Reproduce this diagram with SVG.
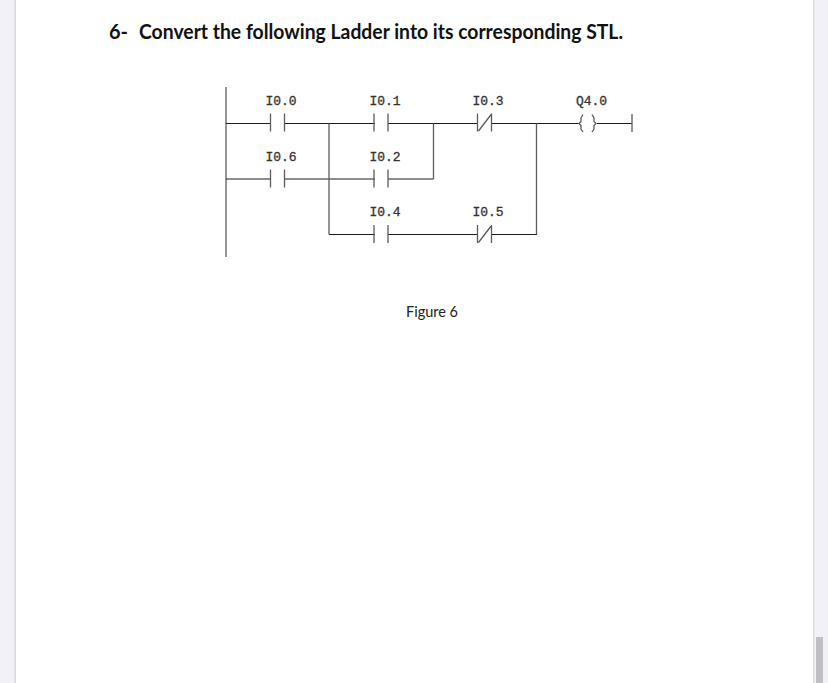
<svg xmlns="http://www.w3.org/2000/svg" width="828" height="683" viewBox="0 0 828 683">
<style>
.w{fill:none;stroke:#1c1c1c;stroke-width:1.2}
.g{fill:none;stroke:#5c5c5c;stroke-width:1.3}
.l{font-family:"Liberation Mono",monospace;font-size:13px;fill:#333;text-anchor:middle;stroke:#333;stroke-width:.3}
.t{font-family:Lato,"Liberation Sans",sans-serif}
</style>
<defs>
<g id="no"><path class="g" d="M-7-9.500V8.500M7-9.500V8.500"/></g>
<g id="nc"><path class="g" d="M-7-9.500V8.500M7-9.500V8.500M-6 8L7-9"/></g>
</defs>
<rect width="828" height="683" fill="#f1f1f7"/>
<rect x="16" width="797" height="683" fill="#fff"/>
<rect x="14.500" width="1.500" height="683" fill="#d8d8de"/>
<rect x="813" width="1.500" height="683" fill="#dcdce2"/>
<rect x="816" y="637" width="7" height="46" fill="#c0c0c4"/>
<text id="title" class="t" x="109" y="39" font-size="20" font-weight="700" fill="#111">6-</text>
<text id="title2" class="t" x="139" y="39" font-size="20" font-weight="700" fill="#111" textLength="484" lengthAdjust="spacingAndGlyphs">Convert the following Ladder into its corresponding STL.</text>
<g id="connectors">
<path class="g" d="M226 87V257"/>
<path class="w" d="M226 123.500H271M284 123.500H375M388 123.500H478M491 123.500H579M597 123.500H632"/>
<path class="w" d="M226 179H271M284 179H375M388 179H433.500"/>
<path class="w" d="M329 234.500H375M388 234.500H478M491 234.500H537"/>
<path class="g" d="M329 123.500V234.500M433.500 123.500V179M536.500 123.500V234.500"/>
</g>
<g id="I0.0"><text class="l" x="281" y="105">I0.0</text><use href="#no" x="277.500" y="123"/></g>
<g id="I0.1"><text class="l" x="385" y="105">I0.1</text><use href="#no" x="381" y="123"/></g>
<g id="I0.3"><text class="l" x="488" y="105">I0.3</text><use href="#nc" x="484.500" y="123"/></g>
<g id="Q4.0"><text class="l" x="591.500" y="105">Q4.0</text>
<path class="g" d="M583 114.500L581 118V121.500L579 123.500L581 125.500V129L583 132M592 114.500L594 118V121.500L596 123.500L594 125.500V129L592 132"/>
<path class="g" d="M632 114V132"/></g>
<g id="I0.6"><text class="l" x="281" y="161">I0.6</text><use href="#no" x="277.500" y="179"/></g>
<g id="I0.2"><text class="l" x="385" y="161">I0.2</text><use href="#no" x="381" y="179"/></g>
<g id="I0.4"><text class="l" x="385" y="216">I0.4</text><use href="#no" x="381" y="234.500"/></g>
<g id="I0.5"><text class="l" x="488" y="216">I0.5</text><use href="#nc" x="484.500" y="234.500"/></g>
<text id="caption" class="t" x="406" y="317" font-size="14.500" fill="#222">Figure 6</text>
</svg>
